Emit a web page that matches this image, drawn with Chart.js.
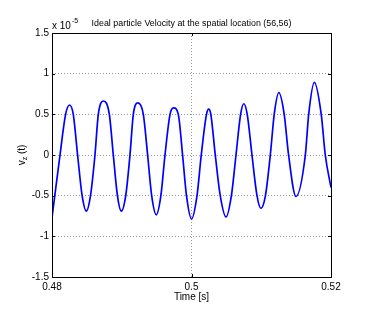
<!DOCTYPE html>
<html><head><meta charset="utf-8">
<script src="https://cdn.jsdelivr.net/npm/chart.js@4.4.0/dist/chart.umd.min.js"></script>
<style>html,body{margin:0;padding:0;background:#fff}#wrap{width:369px;height:314px;position:relative}</style>
</head><body><div id="wrap"><canvas id="c" width="369" height="314"></canvas></div>
<script>
const titleText = "Ideal particle Velocity at the spatial location (56,56)";
const xLabel = "Time [s]";
const yLabelMain = "v";
const yLabelSub = "z";
const yLabelTail = " (t)";
const yExponent = "-5";
const xTicks = [0.48, 0.50, 0.52];
const yTicks = [-1.5, -1, -0.5, 0, 0.5, 1, 1.5];
// time [s]
const timeS = [
  0.48000, 0.48040, 0.48115, 0.48195, 0.48252, 0.48305, 0.48367, 0.48432, 0.48492, 0.48552,
  0.48616, 0.48664, 0.48740, 0.48822, 0.48879, 0.48938, 0.48994, 0.49057,
  0.49118, 0.49166, 0.49233, 0.49309, 0.49371, 0.49429, 0.49495, 0.49561,
  0.49620, 0.49692, 0.49743, 0.49811, 0.49872, 0.49928, 0.50001, 0.50079,
  0.50140, 0.50215, 0.50248, 0.50277, 0.50341, 0.50412, 0.50495, 0.50572,
  0.50638, 0.50704, 0.50750, 0.50799, 0.50867, 0.50939, 0.50996, 0.51060,
  0.51130, 0.51186, 0.51252, 0.51329, 0.51392, 0.51498,
  0.51632, 0.51680, 0.51761, 0.51860, 0.51918, 0.52000
];
// v_z in units of 1e-5
const velocity = [
  -0.77, -0.5, 0.00, 0.5, 0.615, 0.5, 0.00, -0.5, -0.69, -0.5,
  0.00, 0.5, 0.664, 0.5, 0.00, -0.5, -0.69, -0.5,
  0.00, 0.5, 0.64, 0.5, 0.00, -0.5, -0.735, -0.5,
  0.00, 0.5, 0.58, 0.5, 0.00, -0.5, -0.787, -0.5,
  0.00, 0.5, 0.565, 0.5, 0.00, -0.5, -0.762, -0.5,
  0.00, 0.5, 0.63, 0.5, 0.00, -0.5, -0.656, -0.5,
  0.00, 0.5, 0.766, 0.5, 0.00, -0.51,
  0.00, 0.5, 0.894, 0.5, 0.00, -0.40
];

const FONT = "'Liberation Sans', Arial, sans-serif";
const fmt = v => String(Number(v.toFixed(4)));

const decor = {
  id: 'decor',
  afterDraw(chart) {
    const ctx = chart.ctx;
    const a = chart.chartArea;
    const xs = chart.scales.x, ys = chart.scales.y;
    ctx.save();
    ctx.strokeStyle = '#000';
    ctx.lineWidth = 1;
    ctx.strokeRect(Math.round(a.left) + 0.5, Math.round(a.top) + 0.5,
      Math.round(a.right) - Math.round(a.left), Math.round(a.bottom) - Math.round(a.top));
    ctx.beginPath();
    xTicks.forEach(v => {
      const px = Math.round(xs.getPixelForValue(v)) + 0.5;
      ctx.moveTo(px, a.bottom); ctx.lineTo(px, a.bottom - 3);
      ctx.moveTo(px, a.top); ctx.lineTo(px, a.top + 3);
    });
    yTicks.forEach(v => {
      const py = Math.round(ys.getPixelForValue(v)) + 0.5;
      ctx.moveTo(a.left, py); ctx.lineTo(a.left + 3, py);
      ctx.moveTo(a.right, py); ctx.lineTo(a.right - 3, py);
    });
    ctx.stroke();
    ctx.fillStyle = '#000';
    ctx.font = '8.9px ' + FONT;
    ctx.textAlign = 'center'; ctx.textBaseline = 'middle';
    ctx.fillText(titleText, (a.left + a.right) / 2, 24);
    ctx.font = '10px ' + FONT;
    ctx.fillText(xLabel, (a.left + a.right) / 2, 297);
    ctx.textAlign = 'left';
    ctx.font = '10px ' + FONT;
    ctx.fillText('x 10', a.left, 26);
    const w = ctx.measureText('x 10').width;
    ctx.font = '7px ' + FONT;
    ctx.fillText(yExponent, a.left + w + 1, 21);
    ctx.translate(22, (a.top + a.bottom) / 2);
    ctx.rotate(-Math.PI / 2);
    ctx.font = '10px ' + FONT;
    const w1 = ctx.measureText(yLabelMain).width;
    ctx.font = '7px ' + FONT;
    const w2 = ctx.measureText(yLabelSub).width;
    ctx.font = '10px ' + FONT;
    const w3 = ctx.measureText(yLabelTail).width;
    const x0 = -(w1 + w2 + w3) / 2;
    ctx.fillText(yLabelMain, x0, 0);
    ctx.font = '7px ' + FONT;
    ctx.fillText(yLabelSub, x0 + w1, 3);
    ctx.font = '10px ' + FONT;
    ctx.fillText(yLabelTail, x0 + w1 + w2, 0);
    ctx.restore();
  }
};

new Chart(document.getElementById('c'), {
  type: 'line',
  data: {
    datasets: [{
      data: timeS.map((t, i) => ({ x: t, y: velocity[i] })),
      borderColor: '#0000ff',
      borderWidth: 1.7,
      pointRadius: 0,
      fill: false,
      cubicInterpolationMode: 'monotone'
    }]
  },
  options: {
    responsive: false,
    animation: false,
    devicePixelRatio: 1,
    layout: { padding: { top: 33, right: 38, left: 0, bottom: 0 } },
    plugins: { legend: { display: false }, tooltip: { enabled: false }, title: { display: false } },
    scales: {
      x: {
        type: 'linear', min: 0.48, max: 0.52,
        afterBuildTicks: s => { s.ticks = xTicks.map(v => ({ value: v })); },
        afterFit: s => { s.height = 37; },
        ticks: { callback: v => fmt(v), color: '#000', font: { family: FONT, size: 10 }, maxRotation: 0, padding: 4 },
        grid: { color: '#999', drawTicks: false, lineWidth: 1 },
        border: { display: false, dash: [1, 2] }
      },
      y: {
        type: 'linear', min: -1.5, max: 1.5,
        afterBuildTicks: s => { s.ticks = yTicks.map(v => ({ value: v })); },
        afterFit: s => { s.width = 52; },
        ticks: { callback: v => fmt(v), color: '#000', font: { family: FONT, size: 10 }, padding: 3 },
        grid: { color: '#999', drawTicks: false, lineWidth: 1 },
        border: { display: false, dash: [1, 2] }
      }
    }
  },
  plugins: [decor]
});
</script>
</body></html>
